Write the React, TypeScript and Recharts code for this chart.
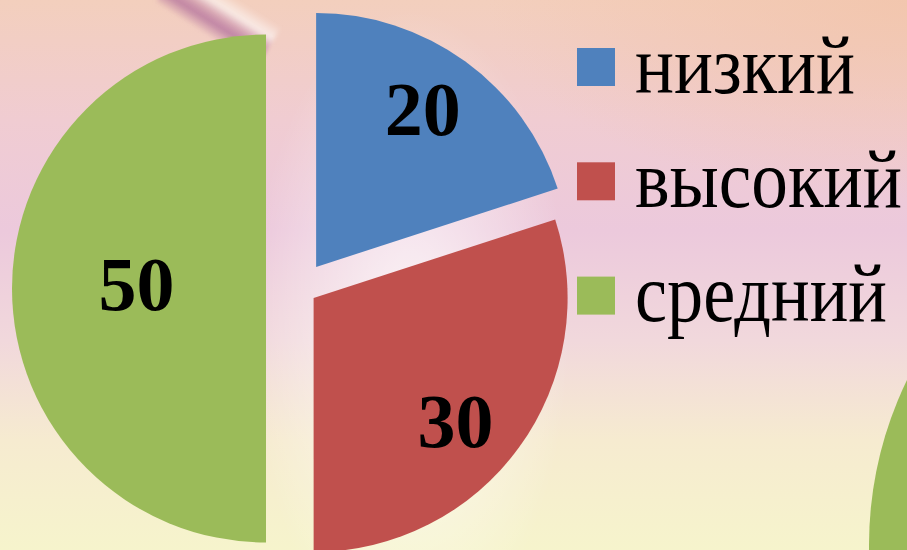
import React from "react";
import { PieChart, Pie, Cell, Legend } from "recharts";

// ---- data ----
const categories = ["низкий", "высокий", "средний"];
const values = [20, 30, 50];
const colors = ["#4f81bd", "#c0504d", "#9bbb59"];

// ---- styling / layout constants ----
const explodeDistance = [26.6, 16.2, 34.5];
const labelRadiusFactor = [0.75, 0.74, 0.51];
const labelAngleShift = [2, -5, -2];
const legendTextWidth = [220, 267, 252];

const W = 907;
const H = 550;
const CENTER_X = 300.5;
const CENTER_Y = 288.5;
const RADIUS = 254;
const START_ANGLE = 90;
const SERIF = "'Liberation Serif', 'Times New Roman', 'DejaVu Serif', serif";
const RAD = Math.PI / 180;

const data = categories.map((name, i) => ({ name, value: values[i] }));
const total = values.reduce((a, b) => a + b, 0);
const midAngles = values.map((v, i) => {
  const before = values.slice(0, i).reduce((a, b) => a + b, 0);
  return START_ANGLE - (360 * (before + v / 2)) / total;
});

const LEG_X = 570;
const LEG_Y = 0;

function makeLabel(k: number) {
  return (props: any) => {
    if (props.index !== k) return null;
    const ang = (props.midAngle + labelAngleShift[k]) * RAD;
    const r = props.outerRadius * labelRadiusFactor[k];
    const x = props.cx + r * Math.cos(ang);
    const y = props.cy - r * Math.sin(ang);
    return (
      <text
        key={`lbl-${k}`}
        x={x}
        y={y + 26}
        textAnchor="middle"
        fontFamily={SERIF}
        fontWeight="bold"
        fontSize={76}
        fill="#000"
      >
        {values[k]}
      </text>
    );
  };
}

const renderLegend = () => (
  <svg width={W - LEG_X} height={340} style={{ overflow: "visible", display: "block" }}>
    {categories.map((c, i) => (
      <g key={c}>
        <rect x={577 - LEG_X} y={48 + i * 114.3 - LEG_Y} width={38} height={38} fill={colors[i]} />
        <text
          x={635 - LEG_X}
          y={92.7 + i * 114.3 - LEG_Y}
          fontFamily={SERIF}
          fontSize={82}
          textLength={legendTextWidth[i]}
          lengthAdjust="spacingAndGlyphs"
          fill="#000"
        >
          {c}
        </text>
      </g>
    ))}
  </svg>
);

export default function App() {
  return (
    <div
      style={{
        position: "absolute",
        left: 0,
        top: 0,
        width: W,
        height: H,
        overflow: "hidden",
        background:
          "radial-gradient(ellipse 160px 320px at 410px 330px, rgba(255,255,255,0.75), rgba(255,255,255,0) 100%)," +
          "radial-gradient(ellipse 420px 200px at 907px 0px, rgba(242,196,170,0.8), rgba(242,196,170,0) 100%)," +
          "linear-gradient(to bottom, #f3cfbd 0%, #f0ccd2 22%, #ecc9dc 42%, #f1d8dc 62%, #f6ebd0 80%, #f6f4cc 100%)",
      }}
    >
      <div
        style={{
          position: "absolute",
          left: 195,
          top: -45,
          width: 46,
          height: 120,
          transform: "rotate(-58deg)",
          filter: "blur(2px)",
          background:
            "linear-gradient(to right, rgba(180,110,170,0), rgba(150,70,140,0.55) 30%, rgba(170,100,160,0.35) 50%, rgba(255,255,255,0.6) 70%, rgba(255,255,255,0))",
        }}
      />
      <div
        style={{
          position: "absolute",
          left: 869,
          top: 545 - 377,
          width: 754,
          height: 754,
          borderRadius: "50%",
          background: "#9bbb59",
        }}
      />
      <div style={{ position: "absolute", left: 0, top: 0 }}>
        <PieChart width={W} height={H} margin={{ top: 0, right: 0, bottom: 0, left: 0 }}>
          {categories.map((_, k) => {
            const dx = explodeDistance[k] * Math.cos(midAngles[k] * RAD);
            const dy = -explodeDistance[k] * Math.sin(midAngles[k] * RAD);
            return (
              <Pie
                key={`pie-${k}`}
                data={data}
                dataKey="value"
                nameKey="name"
                cx={CENTER_X + dx}
                cy={CENTER_Y + dy}
                innerRadius={0}
                outerRadius={RADIUS}
                startAngle={START_ANGLE}
                endAngle={START_ANGLE - 360}
                stroke="none"
                isAnimationActive={false}
                labelLine={false}
                label={makeLabel(k)}
                legendType={k === 0 ? "square" : "none"}
              >
                {data.map((d, i) => (
                  <Cell key={d.name} fill={i === k ? colors[i] : "transparent"} stroke="none" />
                ))}
              </Pie>
            );
          })}
          <Legend
            layout="vertical"
            align="right"
            verticalAlign="top"
            content={renderLegend}
            wrapperStyle={{ left: LEG_X, top: LEG_Y, width: W - LEG_X, height: 340 }}
          />
        </PieChart>
      </div>
    </div>
  );
}
